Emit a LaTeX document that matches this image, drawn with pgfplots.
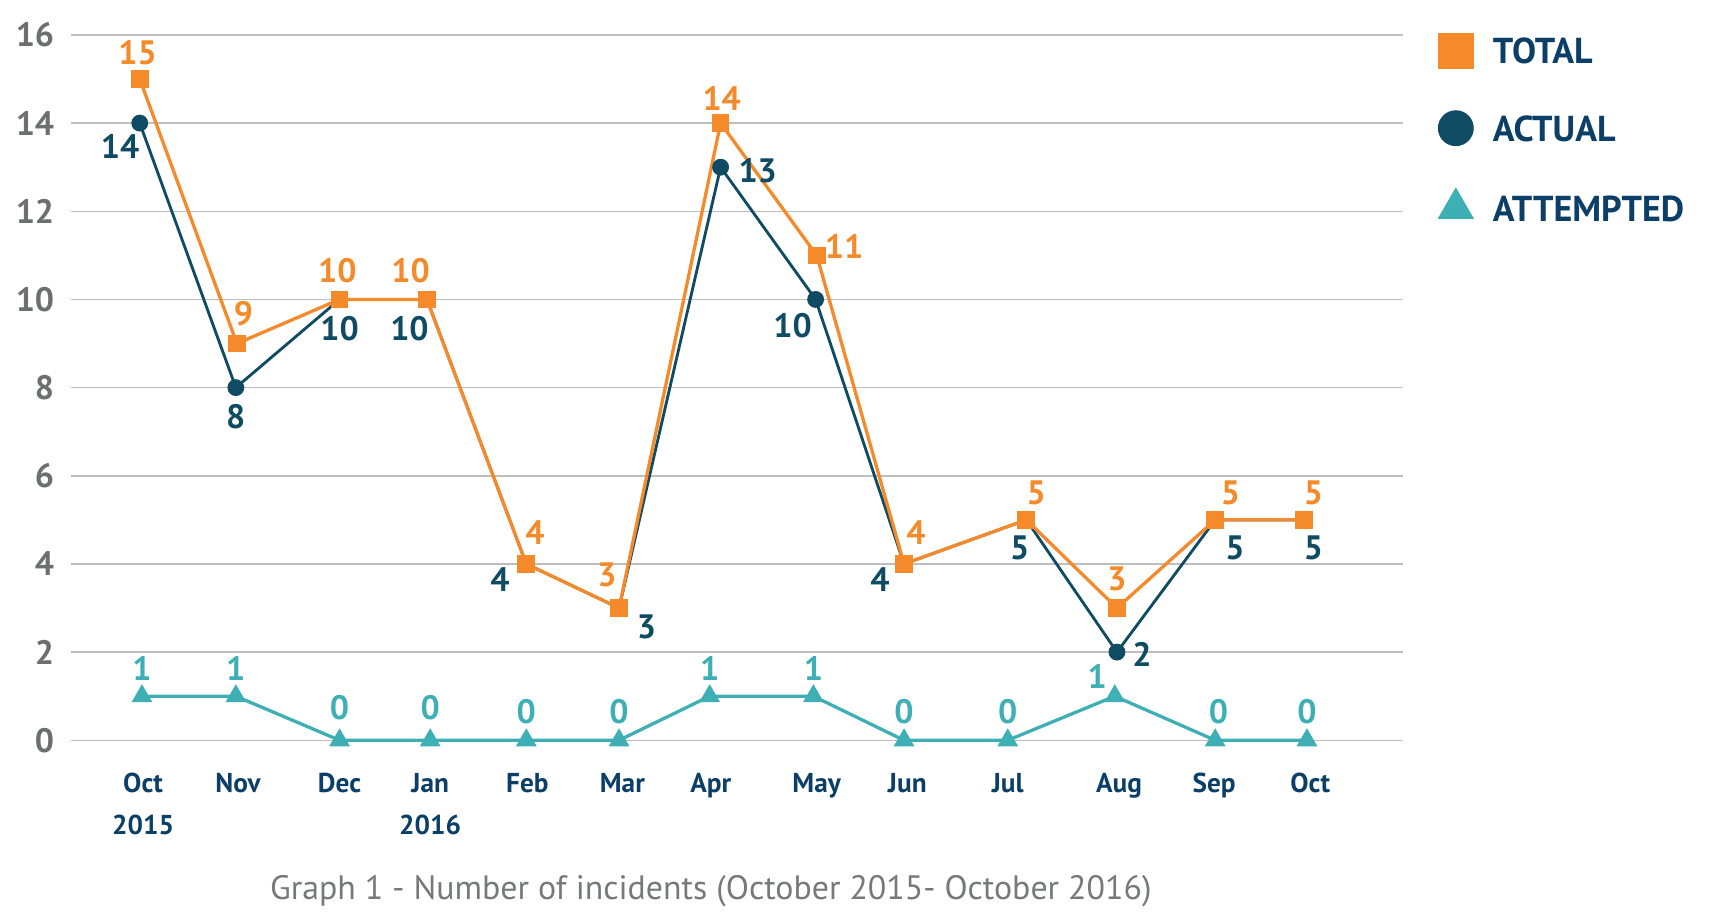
\documentclass[border=0pt]{standalone}
\usepackage{fontspec}
\setmainfont{PT Sans}
\usepackage{pgfplots}
\usepackage{pgfplotstable}
\pgfplotsset{compat=1.18}

\definecolor{totalc}{HTML}{F58A2B}
\definecolor{actc}{HTML}{0F4B62}
\definecolor{attc}{HTML}{3DAFB5}
\definecolor{navytext}{HTML}{0B3F68}
\definecolor{tickgray}{HTML}{6D6E71}
\definecolor{gridc}{HTML}{BEBEBE}
\definecolor{capgray}{HTML}{77787B}

% x = horizontal position of each month, y = incidents,
% dx/dy = offset of the value label from its point
\pgfplotstableread{
x    y  dx  dy
128  15 -2  24
217  9   6  27
311  10 -2  26
391  10 -15 26
482  4   8  29
567  3  -11 30
660  14  1  23
748  11  25  8
828  4   11 29
940  5   9  25
1023 3   0  27
1113 5   14 25
1194 5   9  25
}\totaltab

\pgfplotstableread{
x    y  dx  dy
128  14 -18 -21
216  8   0  -27
311  10  0  -27
391  10 -16 -27
482  4  -24 -14
567  3   25 -17
660  13  34 -3
747  10 -21 -24
828  4  -22 -14
940  5  -6  -26
1023 2   23 -2
1113 5   18 -26
1194 5   9  -26
}\actualtab

\pgfplotstableread{
x    y  dx  dy
130  1   0  25
216  1   0  25
311  0   0  30
394  0   0  30
482  0   0  26
567  0   0  26
650  1   0  25
745  1   0  25
828  0   0  26
923  0   0  26
1021 1  -16 18
1113 0   3  26
1197 0   0  26
}\attemptedtab

\newcommand{\labfont}{\fontsize{15.5}{18}\selectfont\bfseries}

% value labels: the same table, each label shifted by (dx, dy)
\pgfplotsset{
  valuelabels/.style={
    draw=none, mark=none, forget plot,
    nodes near coords,
    point meta=explicit symbolic,
    every node near coord/.append style={anchor=center, inner sep=0pt,
      font=\labfont, text=#1},
  },
}
\newcommand{\dyunit}{0.0247678}

\begin{document}
\begin{tikzpicture}
\path (0,0) rectangle (784pt,421.5pt);
\begin{axis}[
  at={(32.5pt,82.5pt)}, anchor=south west,
  scale only axis, width=610pt, height=323pt,
  xmin=65, xmax=1285, ymin=0, ymax=16,
  clip=false,
  axis line style={draw=none},
  major tick length=0pt,
  ytick={0,2,...,16},
  ymajorgrids,
  grid style={color=gridc, line width=0.7pt},
  /pgf/number format/assume math mode=true,
  yticklabel style={font=\fontsize{15.5}{18}\selectfont\bfseries, text=tickgray,
    anchor=east, inner sep=0pt, xshift=-7.5pt},
  xtick={131,218,311,394,483,570,651,748,831,923,1025,1112,1200},
  xticklabels={{Oct\\[4pt]2015},Nov,Dec,{Jan\\[4pt]2016},Feb,Mar,Apr,May,Jun,Jul,Aug,Sep,Oct},
  xticklabel style={font=\fontsize{12.5}{15}\selectfont\bfseries, text=navytext,
    align=center, anchor=north, inner sep=0pt, yshift=-15pt},
  legend style={at={(1.0262,1.0031)}, anchor=north west, draw=none, fill=none,
    inner sep=0pt, row sep=19.5pt, column sep=0pt,
    font=\fontsize{16.5}{20}\selectfont\bfseries, text=navytext,
    nodes={inner sep=0pt, text height=12pt, text depth=0pt},
    /tikz/every odd column/.append style={column sep=9pt}},
  legend cell align=left,
]
% actual first so the total line sits on top
\addplot[actc, line width=1.3pt, mark=*, mark size=3.2pt, forget plot]
  table[x=x, y=y] {\actualtab};
\addplot[totalc, line width=1.5pt, mark=square*, mark size=3.3pt, forget plot]
  table[x=x, y=y] {\totaltab};
\addplot[attc, line width=1.5pt, mark=triangle*, mark size=4pt, forget plot]
  table[x=x, y=y] {\attemptedtab};

\addplot[valuelabels=actc] table[x expr=\thisrow{x}+\thisrow{dx},
  y expr=\thisrow{y}+\thisrow{dy}*\dyunit, meta=y] {\actualtab};
\addplot[valuelabels=totalc] table[x expr=\thisrow{x}+\thisrow{dx},
  y expr=\thisrow{y}+\thisrow{dy}*\dyunit, meta=y] {\totaltab};
\addplot[valuelabels=attc] table[x expr=\thisrow{x}+\thisrow{dx},
  y expr=\thisrow{y}+\thisrow{dy}*\dyunit, meta=y] {\attemptedtab};

\addlegendimage{only marks, mark=square*, color=totalc, mark size=8pt}
\addlegendentry{TOTAL}
\addlegendimage{only marks, mark=*, color=actc, mark size=8pt}
\addlegendentry{ACTUAL}
\addlegendimage{only marks, mark=triangle*, color=attc, mark size=9.2pt}
\addlegendentry{ATTEMPTED}
\end{axis}
\node[font=\fontsize{15.5}{19}\selectfont, text=capgray, inner sep=0pt]
  at (325.5pt,13.5pt) {Graph 1 - Number of incidents (October 2015- October 2016)};
\end{tikzpicture}
\end{document}
